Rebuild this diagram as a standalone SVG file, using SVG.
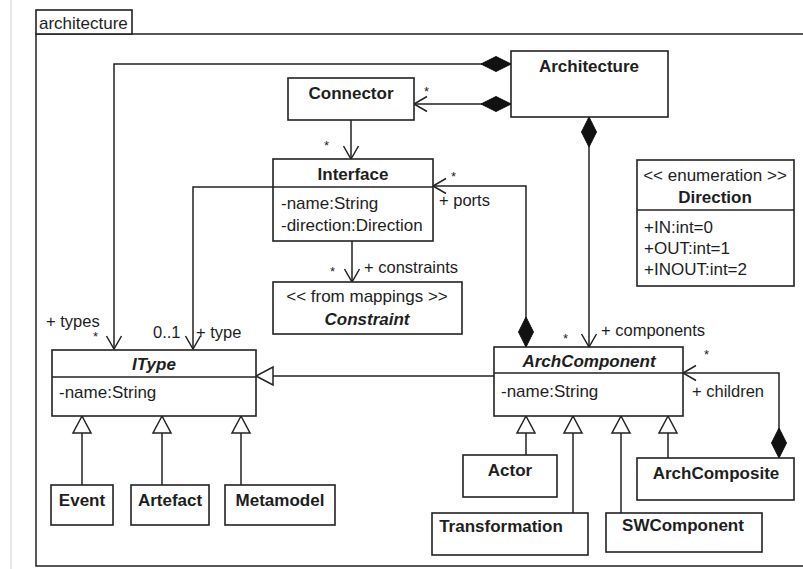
<svg xmlns="http://www.w3.org/2000/svg" width="803" height="569" viewBox="0 0 803 569">
<style>
.box{fill:#fff;stroke:#222;stroke-width:1.6}
.ln{fill:none;stroke:#222;stroke-width:1.5}
text{font-family:"Liberation Sans",Arial,sans-serif;font-size:17px;fill:#1e1e1e}
.b{font-weight:bold}
.bi{font-weight:bold;font-style:italic}
.c{text-anchor:middle}
.lbl{font-size:16.5px}
.star{font-size:13px}
</style>
<defs>
<marker id="open" viewBox="-14 -9 16 18" refX="0" refY="0" markerWidth="16" markerHeight="18" markerUnits="userSpaceOnUse" orient="auto">
<path d="M-13,-7.5 L0,0 L-13,7.5" fill="none" stroke="#222" stroke-width="1.5"/>
</marker>
<marker id="dia" viewBox="-34 -9 36 18" refX="0" refY="0" markerWidth="36" markerHeight="18" markerUnits="userSpaceOnUse" orient="auto-start-reverse">
<path d="M0,0 L-15,-7.5 L-30,0 L-15,7.5 Z" fill="#111" stroke="#111" stroke-width="1"/>
</marker>
<marker id="tri" viewBox="-20 -11 22 22" refX="0" refY="0" markerWidth="22" markerHeight="22" markerUnits="userSpaceOnUse" orient="auto">
<path d="M0,0 L-17,-9 L-17,9 Z" fill="#fff" stroke="#222" stroke-width="1.5"/>
</marker>
</defs>
<rect x="0" y="0" width="803" height="569" fill="#fff"/>
<line x1="11" y1="0" x2="11" y2="569" stroke="#d0d0d0" stroke-width="1"/>
<g id="frame">
<path d="M805,34 H36 V566 H805" class="ln" stroke-width="1.8"/>
<rect x="36" y="10" width="96" height="24" class="box"/>
<text x="39" y="29">architecture</text>
</g>
<g id="connectors">
<path class="ln" d="M511,64 H114 V349" marker-start="url(#dia)" marker-end="url(#open)"/>
<path class="ln" d="M511,104 H414" marker-start="url(#dia)" marker-end="url(#open)"/>
<path class="ln" d="M351,120 V159" marker-end="url(#open)"/>
<path class="ln" d="M273,187 H193 V349" marker-end="url(#open)"/>
<path class="ln" d="M526,347 V186 H433" marker-start="url(#dia)" marker-end="url(#open)"/>
<path class="ln" d="M352,241 V282" marker-end="url(#open)"/>
<path class="ln" d="M589,117 V347" marker-start="url(#dia)" marker-end="url(#open)"/>
<path class="ln" d="M779,458 V373 H683" marker-start="url(#dia)" marker-end="url(#open)"/>
<path class="ln" d="M494,376 H256" marker-end="url(#tri)"/>
<path class="ln" d="M526,455 V416" marker-end="url(#tri)"/>
<path class="ln" d="M573,513 V416" marker-end="url(#tri)"/>
<path class="ln" d="M621,513 V416" marker-end="url(#tri)"/>
<path class="ln" d="M668,458 V416" marker-end="url(#tri)"/>
<path class="ln" d="M82,485 V416" marker-end="url(#tri)"/>
<path class="ln" d="M162,485 V416" marker-end="url(#tri)"/>
<path class="ln" d="M241,485 V416" marker-end="url(#tri)"/>
<text class="star" x="424" y="96">*</text>
<text class="star" x="324" y="150">*</text>
<text class="star" x="451" y="181">*</text>
<text class="lbl" x="439" y="206">+ ports</text>
<text class="star" x="330" y="276">*</text>
<text class="lbl" x="364" y="273">+ constraints</text>
<text class="star" x="563" y="343">*</text>
<text class="lbl" x="601" y="336">+ components</text>
<text class="star" x="704" y="359">*</text>
<text class="lbl" x="692" y="397">+ children</text>
<text class="lbl" x="46" y="327">+ types</text>
<text class="star" x="93" y="341">*</text>
<text class="lbl" x="153" y="338">0..1</text>
<text class="lbl" x="196" y="338">+ type</text>
</g>
<g id="Architecture">
<rect x="511" y="51" width="157" height="66" class="box"/>
<text class="b c" x="589" y="72">Architecture</text>
</g>
<g id="Connector">
<rect x="288" y="78" width="126" height="42" class="box"/>
<text class="b c" x="351" y="99">Connector</text>
</g>
<g id="Interface">
<rect x="273" y="159" width="160" height="82" class="box"/>
<line x1="273" y1="187" x2="433" y2="187" class="ln"/>
<text class="b c" x="353" y="180">Interface</text>
<text x="281" y="209">-name:String</text>
<text x="281" y="231">-direction:Direction</text>
</g>
<g id="Constraint">
<rect x="273" y="282" width="189" height="52" class="box"/>
<text class="c" x="367" y="302">&lt;&lt; from mappings &gt;&gt;</text>
<text class="bi c" x="367" y="325">Constraint</text>
</g>
<g id="Direction">
<rect x="637" y="160" width="157" height="126" class="box"/>
<line x1="637" y1="210" x2="794" y2="210" class="ln"/>
<text class="c" x="715" y="181">&lt;&lt; enumeration &gt;&gt;</text>
<text class="b c" x="715" y="203">Direction</text>
<text x="644" y="233">+IN:int=0</text>
<text x="644" y="254">+OUT:int=1</text>
<text x="644" y="275">+INOUT:int=2</text>
</g>
<g id="IType">
<rect x="52" y="350" width="204" height="66" class="box"/>
<line x1="52" y1="377" x2="256" y2="377" class="ln"/>
<text class="bi c" x="154" y="370">IType</text>
<text x="59" y="398">-name:String</text>
</g>
<g id="ArchComponent">
<rect x="494" y="347" width="189" height="69" class="box"/>
<line x1="494" y1="373" x2="683" y2="373" class="ln"/>
<text class="bi c" x="589" y="367">ArchComponent</text>
<text x="501" y="397">-name:String</text>
</g>
<g id="Event">
<rect x="51" y="485" width="62" height="40" class="box"/>
<text class="b c" x="82" y="506">Event</text>
</g>
<g id="Artefact">
<rect x="131" y="485" width="78" height="40" class="box"/>
<text class="b c" x="170" y="506">Artefact</text>
</g>
<g id="Metamodel">
<rect x="225" y="485" width="110" height="40" class="box"/>
<text class="b c" x="280" y="506">Metamodel</text>
</g>
<g id="Actor">
<rect x="463" y="455" width="94" height="42" class="box"/>
<text class="b c" x="510" y="476">Actor</text>
</g>
<g id="ArchComposite">
<rect x="637" y="458" width="157" height="42" class="box"/>
<text class="b c" x="716" y="479">ArchComposite</text>
</g>
<g id="Transformation">
<rect x="432" y="513" width="156" height="42" class="box"/>
<text class="b c" x="501" y="532">Transformation</text>
</g>
<g id="SWComponent">
<rect x="606" y="513" width="156" height="39" class="box"/>
<text class="b c" x="683" y="531">SWComponent</text>
</g>
</svg>
